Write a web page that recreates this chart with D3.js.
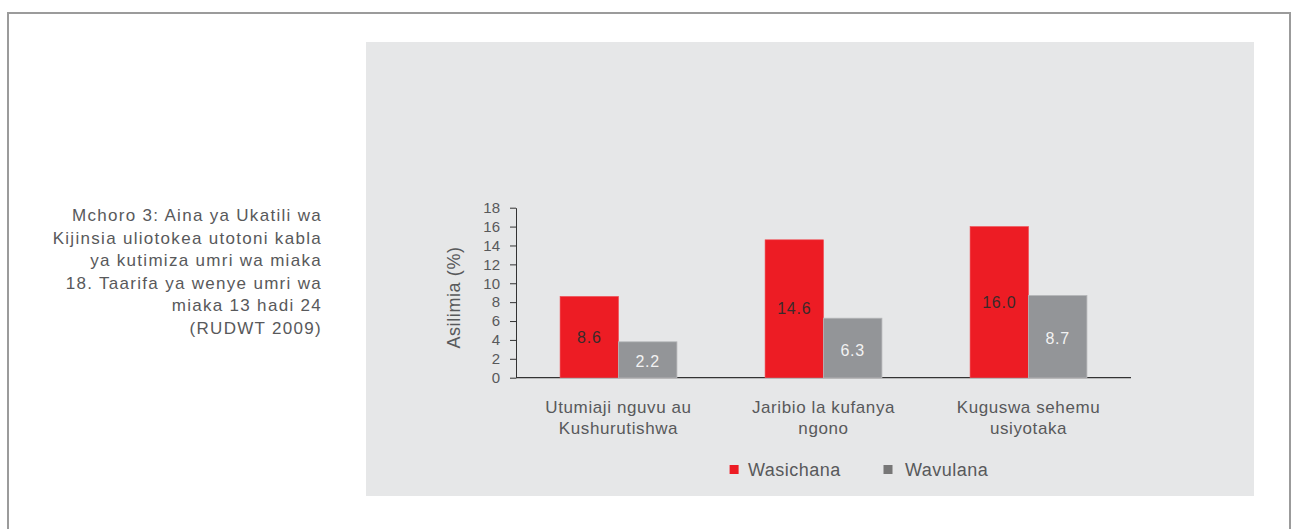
<!DOCTYPE html>
<html>
<head>
<meta charset="utf-8">
<script src="https://cdn.jsdelivr.net/npm/d3@7"></script>
<style>
  body { margin: 0; background: #fff; }
  svg { display: block; font-family: 'Liberation Sans', Arial, sans-serif; }
</style>
</head>
<body>
<div id="chart"></div>
<script>
let categories = [['Utumiaji nguvu au', 'Kushurutishwa'], ['Jaribio la kufanya', 'ngono'], ['Kuguswa sehemu', 'usiyotaka']]
let seriesNames = ['Wasichana', 'Wavulana']
let wasichana = [8.6, 14.6, 16.0]
// the first boys bar is drawn taller than its printed label in the original
let wavulana = [3.8, 6.3, 8.7]
let wasichanaLabels = ['8.6', '14.6', '16.0']
let wavulanaLabels = ['2.2', '6.3', '8.7']
let yTicks = [0, 2, 4, 6, 8, 10, 12, 14, 16, 18]
let caption = ['Mchoro 3: Aina ya Ukatili wa', 'Kijinsia uliotokea utotoni kabla', 'ya kutimiza umri wa miaka', '18. Taarifa ya wenye umri wa', 'miaka 13 hadi 24', '(RUDWT 2009)']

let red = '#ED1C24'
let grey = '#939598'
let textCol = '#58595b'

function main () {
  let svg = d3.select('#chart').append('svg').attr('width', 1292).attr('height', 529)

  // outer frame
  svg.append('path')
    .attr('d', 'M8,529 V13 H1290 V529')
    .attr('fill', 'none').attr('stroke', '#9b9b9b').attr('stroke-width', 2)

  // panel
  svg.append('rect').attr('x', 366).attr('y', 42).attr('width', 888).attr('height', 454).attr('fill', '#E6E7E8')

  // caption
  svg.append('g').selectAll('text').data(caption).join('text')
    .attr('x', 322).attr('y', (d, i) => 215 + i * 22.6)
    .attr('dy', '0.35em').attr('text-anchor', 'end')
    .attr('font-size', 17).attr('letter-spacing', 1.3).attr('fill', textCol)
    .text((d) => d)

  let x = d3.scaleBand().domain(d3.range(categories.length)).range([516, 1131])
  let y = d3.scaleLinear().domain([0, 18]).range([377.7, 207.7])
  let bw = x.bandwidth() * 0.285

  let yAxis = svg.append('g').attr('transform', 'translate(516,0)')
    .call(d3.axisLeft(y).tickValues(yTicks).tickSize(6).tickSizeOuter(0))
  yAxis.select('.domain').attr('stroke', '#333')
  yAxis.selectAll('.tick line').attr('stroke', '#333')
  yAxis.selectAll('.tick text').attr('font-size', 15).attr('fill', textCol)
    .attr('font-family', "'Liberation Sans', Arial, sans-serif").attr('x', -16)

  svg.append('line').attr('x1', 516).attr('x2', 1131).attr('y1', y(0)).attr('y2', y(0))
    .attr('stroke', '#333').attr('stroke-width', 1.2)

  svg.append('text')
    .attr('transform', 'translate(460,297.5) rotate(-90)')
    .attr('text-anchor', 'middle').attr('font-size', 18).attr('letter-spacing', 0.6).attr('fill', textCol)
    .text('Asilimia (%)')

  let groups = svg.append('g').selectAll('g').data(categories).join('g')
    .attr('transform', (d, i) => 'translate(' + (x(i) + x.bandwidth() / 2) + ',0)')

  groups.append('rect')
    .attr('x', -bw).attr('width', bw)
    .attr('y', (d, i) => y(wasichana[i])).attr('height', (d, i) => y(0) - y(wasichana[i]))
    .attr('fill', red).attr('stroke', '#f04a50').attr('stroke-width', 0.6)
  groups.append('rect')
    .attr('x', 0).attr('width', bw)
    .attr('y', (d, i) => y(wavulana[i])).attr('height', (d, i) => y(0) - y(wavulana[i]))
    .attr('fill', grey).attr('stroke', '#b5b6b8').attr('stroke-width', 0.8)

  groups.append('text')
    .attr('x', -bw / 2).attr('y', (d, i) => (y(wasichana[i]) + y(0)) / 2)
    .attr('dy', '0.35em').attr('text-anchor', 'middle')
    .attr('font-size', 16).attr('letter-spacing', 0.8).attr('fill', '#3a2a2a')
    .text((d, i) => wasichanaLabels[i])
  groups.append('text')
    .attr('x', bw / 2).attr('y', (d, i) => (y(wavulana[i]) + y(0)) / 2 + 2)
    .attr('dy', '0.35em').attr('text-anchor', 'middle')
    .attr('font-size', 16).attr('letter-spacing', 0.8).attr('fill', '#f2f2f2')
    .text((d, i) => wavulanaLabels[i])

  groups.append('text')
    .attr('text-anchor', 'middle').attr('font-size', 17).attr('letter-spacing', 0.6).attr('fill', textCol)
    .selectAll('tspan').data((d) => d).join('tspan')
    .attr('x', 0).attr('y', (d, i) => 406.8 + i * 21).attr('dy', '0.35em')
    .text((d) => d)

  // legend
  let legendX = [729.6, 883.5]
  let legendCol = [red, '#777']
  let legend = svg.append('g').selectAll('g').data(seriesNames).join('g')
    .attr('transform', (d, i) => 'translate(' + legendX[i] + ',465)')
  legend.append('rect').attr('width', 9).attr('height', 9).attr('fill', (d, i) => legendCol[i])
  legend.append('text')
    .attr('x', (d, i) => i === 0 ? 18.4 : 21.5).attr('y', 5).attr('dy', '0.35em')
    .attr('font-size', 18).attr('letter-spacing', 0.5).attr('fill', textCol)
    .text((d) => d)
}

main()
</script>
</body>
</html>
